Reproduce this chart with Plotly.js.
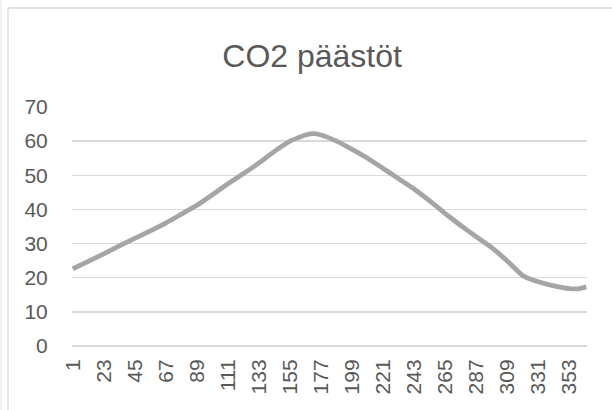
<!DOCTYPE html>
<html>
<head>
<meta charset="utf-8">
<script src="https://cdn.plot.ly/plotly-3.0.1.min.js"></script>
<style>html,body{margin:0;padding:0;background:#fff;}#chart{width:612px;height:410px;}</style>
</head>
<body>
<div id="chart"></div>
<script>
// Day number (category) and CO2 emissions
const days = [1, 12, 23, 34, 45, 56, 67, 78, 89, 100, 111, 122, 133, 144, 155, 166, 172, 177, 188, 199, 210, 221, 232, 243, 254, 265, 276, 287, 298, 309, 320, 331, 342, 353, 360, 365];
const co2 = [22.6, 24.8, 27.0, 29.3, 31.5, 33.7, 36.0, 38.6, 41.2, 44.3, 47.5, 50.5, 53.6, 57.0, 60.0, 61.8, 62.2, 61.8, 60.0, 57.6, 55.0, 52.0, 49.0, 46.0, 42.5, 38.8, 35.3, 32.0, 28.8, 24.9, 20.6, 18.8, 17.6, 16.8, 16.8, 17.3];
const xTickVals = [1, 23, 45, 67, 89, 111, 133, 155, 177, 199, 221, 243, 265, 287, 309, 331, 353];
const yTickVals = [0, 10, 20, 30, 40, 50, 60, 70];
const titleText = "CO2 päästöt";

const trace = {
  x: days, y: co2, type: 'scatter', mode: 'lines',
  line: {color: '#a5a5a5', width: 4.8, shape: 'spline', smoothing: 0.4},
  hoverinfo: 'skip'
};

const font = "Liberation Sans, Arial, sans-serif";
const layout = {
  width: 612, height: 410,
  margin: {l: 72, r: 25, t: 107, b: 64},
  paper_bgcolor: '#ffffff', plot_bgcolor: '#ffffff',
  showlegend: false,
  title: {
    text: titleText,
    font: {family: font, size: 32, color: '#595959'},
    xref: 'container', yref: 'container', x: 0.51, xanchor: 'center', y: 1 - 56/410, yanchor: 'middle'
  },
  xaxis: {
    range: [0.5, 365.5],
    tickvals: xTickVals, ticktext: xTickVals.map(String),
    tickangle: -90,
    ticks: 'outside', ticklen: 4, tickcolor: 'rgba(0,0,0,0)',
    tickfont: {family: font, size: 21, color: '#595959'},
    showgrid: false, zeroline: false, showline: false
  },
  yaxis: {
    range: [0, 70],
    tickvals: yTickVals,
    ticks: 'outside', ticklen: 19, tickcolor: 'rgba(0,0,0,0)',
    tickfont: {family: font, size: 21, color: '#595959'},
    showgrid: true, gridcolor: '#d9d9d9', gridwidth: 1.3,
    zeroline: true, zerolinecolor: '#d9d9d9', zerolinewidth: 1.3,
    showline: false
  },
  shapes: [
    {type: 'rect', xref: 'paper', yref: 'paper',
     x0: (8 - 72) / 515, x1: (640 - 72) / 515,
     y0: (346 - 440) / 239, y1: (346 - 8) / 239,
     line: {color: '#d9d9d9', width: 1.3}, layer: 'below'},
    {type: 'line', xref: 'paper', yref: 'paper',
     x0: (1 - 72) / 515, x1: (1 - 72) / 515,
     y0: (346 - 440) / 239, y1: (346 - 0) / 239,
     line: {color: '#e6e6e6', width: 1}, layer: 'below'}
  ]
};

Plotly.newPlot('chart', [trace], layout, {staticPlot: true, displayModeBar: false});
</script>
</body>
</html>
